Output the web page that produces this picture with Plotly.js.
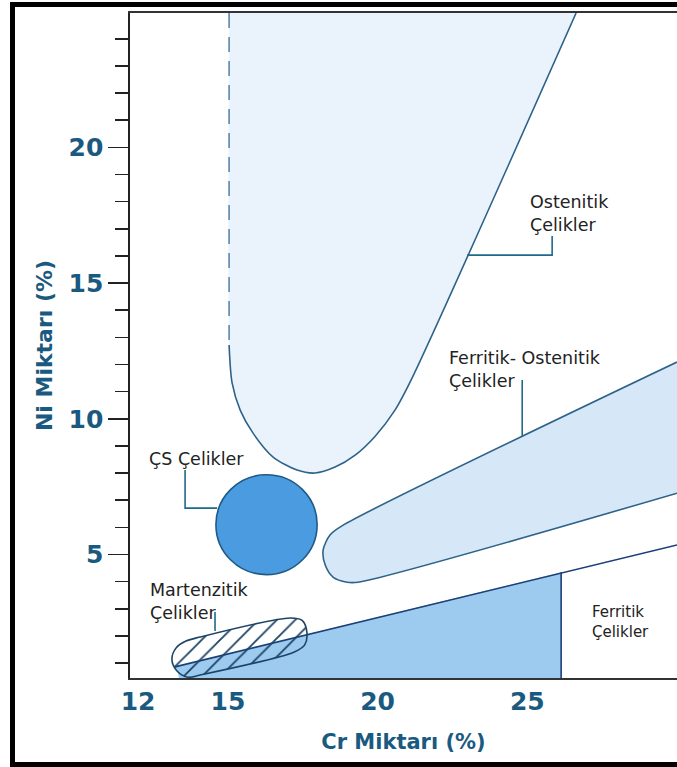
<!DOCTYPE html>
<html>
<head>
<meta charset="utf-8">
<script src="https://cdn.plot.ly/plotly-3.0.1.min.js"></script>
<style>html,body{margin:0;padding:0;background:#fff;}#chart{width:677px;height:767px;}</style>
</head>
<body>
<div id="chart"></div>
<script>
// ---- Data (Cr %, Ni %) ----
const crTicks = [12, 15, 20, 25];
const niTicks = [5, 10, 15, 20, 25];
const niTickText = ['5', '10', '15', '20', ''];

// Ostenitik çelikler region: dashed left limit + curved lower boundary
const austDashCr = [15.04, 15.04];
const austDashNi = [24.95, 12.72];
const austCurveCr = [15.04, 15.14, 15.41, 15.84, 16.51, 17.31, 17.91, 18.58, 19.25, 19.92, 20.58, 21.15, 26.63];
const austCurveNi = [12.72, 11.32, 10.32, 9.47, 8.59, 8.11, 8.00, 8.22, 8.66, 9.36, 10.32, 11.50, 24.95];

// Ferritik-Ostenitik çelikler band
const duplexCr = [30.0, 18.85, 18.41, 18.18, 18.25, 18.51, 18.98, 19.35, 30.0];
const duplexNi = [12.09, 6.08, 5.72, 5.16, 4.61, 4.17, 3.98, 3.98, 7.26];

// ÇS çelikler (circle extent)
const csCr = [14.60, 17.98];
const csNi = [4.26, 7.94];

// Ferritik çelikler region (below the line, up to the vertical limit)
const ferrLineCr = [13.23, 30.0];
const ferrLineNi = [0.86, 5.35];
const ferrFillCr = [13.23, 26.13, 26.13, 13.43, 13.33];
const ferrFillNi = [0.86, 4.35, 0.0, 0.0, 0.67];
const ferrLimitCr = [26.13, 26.13];
const ferrLimitNi = [4.35, 0.0];

// Martenzitik çelikler (hatched capsule)
const martCr = [14.07, 17.08, 17.48, 17.64, 17.56, 17.20, 14.07, 13.67, 13.30, 13.13, 13.27, 13.60, 14.07];
const martNi = [1.96, 2.66, 2.57, 2.12, 1.66, 1.40, 0.56, 0.48, 0.71, 1.13, 1.56, 1.81, 1.96];

// Leader lines
const leadOstCr = [25.83, 25.83, 22.99];
const leadOstNi = [16.73, 16.03, 16.03];
const leadDupCr = [24.83, 24.83];
const leadDupNi = [11.43, 9.33];
const leadCsCr = [13.57, 13.57, 14.64];
const leadCsNi = [8.11, 6.71, 6.71];
const leadMartCr = [14.57, 14.57];
const leadMartNi = [2.88, 2.18];

// ---- Styles ----
const edge = '#2d6289';
const lead = '#1f6a8a';
const axisBlue = '#1b5a80';
const labFont = {family: 'DejaVu Sans', size: 17.5, color: '#222'};

const traces = [
  {x: [austDashCr[0]].concat(austCurveCr), y: [austDashNi[0]].concat(austCurveNi),
   mode: 'lines', line: {width: 0, shape: 'spline', smoothing: 0.8}, fill: 'toself',
   fillcolor: '#eaf3fc', hoverinfo: 'skip'},
  {x: austCurveCr, y: austCurveNi, mode: 'lines',
   line: {color: edge, width: 1.6, shape: 'spline', smoothing: 0.8}, hoverinfo: 'skip'},
  {x: austDashCr, y: austDashNi, mode: 'lines',
   line: {color: '#5f87aa', width: 1.6, dash: '15px,9px'}, hoverinfo: 'skip'},
  {x: duplexCr, y: duplexNi, mode: 'lines', fill: 'toself', fillcolor: '#d6e8f8',
   line: {color: edge, width: 1.6, shape: 'spline', smoothing: 0.8}, hoverinfo: 'skip'},
  {x: ferrFillCr, y: ferrFillNi, mode: 'lines', fill: 'toself', fillcolor: '#9ccbef',
   line: {width: 0}, hoverinfo: 'skip'},
  {x: ferrLineCr, y: ferrLineNi, mode: 'lines', line: {color: '#1c3f78', width: 1.6}, hoverinfo: 'skip'},
  {x: ferrLimitCr, y: ferrLimitNi, mode: 'lines', line: {color: '#1c3f78', width: 1.6}, hoverinfo: 'skip'},
  {x: martCr, y: martNi, mode: 'lines', fill: 'toself', fillcolor: 'rgba(0,0,0,0)',
   fillpattern: {shape: '/', fgcolor: '#1d4466', bgcolor: 'rgba(0,0,0,0)', size: 13, solidity: 0.14},
   line: {color: '#1d4466', width: 1.6, shape: 'spline', smoothing: 0.9}, hoverinfo: 'skip'},
  {x: leadOstCr, y: leadOstNi, mode: 'lines', line: {color: lead, width: 1.6}, hoverinfo: 'skip'},
  {x: leadDupCr, y: leadDupNi, mode: 'lines', line: {color: lead, width: 1.6}, hoverinfo: 'skip'},
  {x: leadCsCr, y: leadCsNi, mode: 'lines', line: {color: lead, width: 1.6}, hoverinfo: 'skip'},
  {x: leadMartCr, y: leadMartNi, mode: 'lines', line: {color: lead, width: 1.6}, hoverinfo: 'skip'}
];

const tickFont = {family: 'DejaVu Sans', size: 25, color: axisBlue, weight: 'bold'};
const titleFont = {family: 'DejaVu Sans', size: 21, color: axisBlue, weight: 'bold'};

const layout = {
  width: 677, height: 767,
  margin: {l: 130, r: 0, t: 13, b: 89, pad: 0},
  paper_bgcolor: '#fff', plot_bgcolor: '#fff',
  showlegend: false,
  xaxis: {
    range: [11.73, 30.0], showgrid: false, zeroline: false,
    showline: true, linecolor: '#333', linewidth: 2, mirror: true,
    ticks: '', tickvals: crTicks, tickfont: tickFont,
    title: {text: 'Cr Miktarı (%)', font: titleFont, standoff: 19},
    fixedrange: true
  },
  yaxis: {
    range: [0.45, 24.95], showgrid: false, zeroline: false,
    showline: true, linecolor: '#222', linewidth: 1.6, mirror: false,
    ticks: 'outside', ticklen: 20, tickwidth: 1.6, tickcolor: '#222',
    tickvals: niTicks, ticktext: niTickText, tickfont: tickFont,
    minor: {dtick: 1, tick0: 0, ticks: 'outside', ticklen: 13, tickwidth: 1.6, tickcolor: '#222'},
    title: {text: 'Ni Miktarı (%)', font: {family: 'DejaVu Sans', size: 22, color: axisBlue, weight: 'bold'}, standoff: 10},
    fixedrange: true
  },
  shapes: [
    {type: 'circle', xref: 'x', yref: 'y', x0: csCr[0], x1: csCr[1], y0: csNi[0], y1: csNi[1],
     fillcolor: '#4b9be0', line: {color: '#1f5a87', width: 1.6}},
    {type: 'rect', xref: 'paper', yref: 'paper', x0: -0.2148, x1: 1.01, y0: -0.1301, y1: 1.0128,
     line: {color: '#000', width: 5}, fillcolor: 'rgba(0,0,0,0)'}
  ],
  annotations: [
    {x: 25.03, y: 17.58, xref: 'x', yref: 'y', text: 'Ostenitik<br>Çelikler', showarrow: false,
     xanchor: 'left', yanchor: 'middle', align: 'left', font: labFont},
    {x: 22.32, y: 11.80, xref: 'x', yref: 'y', text: 'Ferritik- Ostenitik<br>Çelikler', showarrow: false,
     xanchor: 'left', yanchor: 'middle', align: 'left', font: labFont},
    {x: 12.30, y: 8.52, xref: 'x', yref: 'y', text: 'ÇS Çelikler', showarrow: false,
     xanchor: 'left', yanchor: 'middle', align: 'left', font: labFont},
    {x: 12.33, y: 3.28, xref: 'x', yref: 'y', text: 'Martenzitik<br>Çelikler', showarrow: false,
     xanchor: 'left', yanchor: 'middle', align: 'left', font: labFont},
    {x: 27.10, y: 2.51, xref: 'x', yref: 'y', text: 'Ferritik<br>Çelikler', showarrow: false,
     xanchor: 'left', yanchor: 'middle', align: 'left', font: {family: 'DejaVu Sans', size: 15, color: '#222'}}
  ]
};

Plotly.newPlot('chart', traces, layout, {displayModeBar: false, staticPlot: true});
</script>
</body>
</html>
